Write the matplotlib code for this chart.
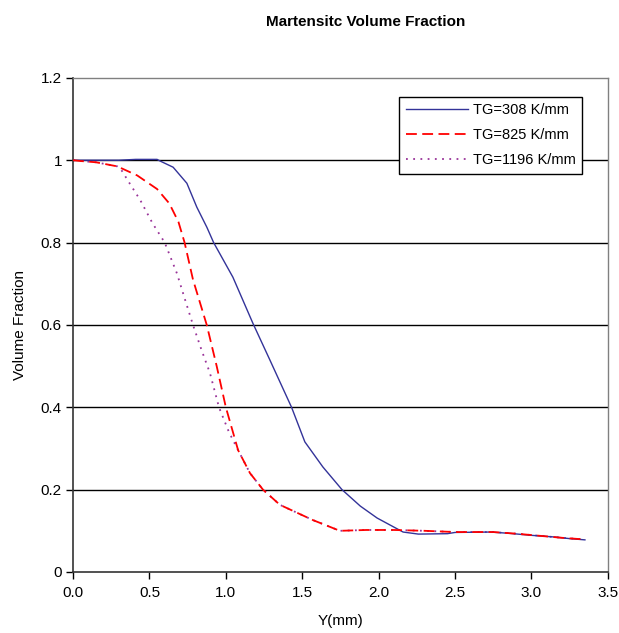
import matplotlib
matplotlib.use("Agg")
import matplotlib.pyplot as plt

plt.rcParams['font.family'] = ['Liberation Sans', 'DejaVu Sans']

# TG = 308 K/mm
y_308 = [0.0, 0.3, 0.41, 0.55, 0.57, 0.655, 0.745, 0.81, 0.876, 0.92, 1.046,
         1.177, 1.288, 1.43, 1.517, 1.635, 1.76, 1.88, 1.99, 2.16, 2.26,
         2.45, 2.5, 2.73, 2.85, 3.0, 3.15, 3.25, 3.35]
vf_308 = [1.0, 1.0, 1.002, 1.002, 0.998, 0.983, 0.944, 0.886, 0.837, 0.80, 0.716,
          0.604, 0.515, 0.40, 0.316, 0.255, 0.20, 0.16, 0.131, 0.097, 0.092,
          0.093, 0.096, 0.097, 0.094, 0.089, 0.085, 0.081, 0.078]

# TG = 825 K/mm
y_825 = [0.0, 0.05, 0.15, 0.22, 0.29, 0.42, 0.55, 0.63, 0.69, 0.73, 0.785,
         0.875, 0.94, 1.0, 1.08, 1.158, 1.243, 1.354, 1.57, 1.746, 1.92,
         2.1, 2.3, 2.5, 2.75, 2.9, 3.05, 3.2, 3.35]
vf_825 = [1.0, 0.998, 0.995, 0.99, 0.985, 0.963, 0.93, 0.895, 0.85, 0.80, 0.71,
          0.60, 0.50, 0.40, 0.296, 0.24, 0.20, 0.163, 0.126, 0.10, 0.102,
          0.102, 0.10, 0.097, 0.097, 0.093, 0.088, 0.083, 0.079]

# TG = 1196 K/mm
y_1196 = [0.0, 0.05, 0.15, 0.22, 0.29, 0.31, 0.37, 0.44, 0.52, 0.60, 0.68,
          0.73, 0.785, 0.84, 0.896, 0.955, 1.02, 1.08, 1.158, 1.243, 1.354,
          1.57, 1.746, 1.92, 2.1, 2.3, 2.5, 2.75, 2.9, 3.05, 3.2, 3.35]
vf_1196 = [1.0, 0.998, 0.995, 0.99, 0.985, 0.98, 0.944, 0.903, 0.847, 0.80, 0.725,
           0.665, 0.60, 0.54, 0.483, 0.40, 0.34, 0.296, 0.24, 0.20, 0.163,
           0.126, 0.10, 0.102, 0.102, 0.10, 0.097, 0.097, 0.093, 0.088,
           0.083, 0.079]

labels = ['TG=308 K/mm', 'TG=825 K/mm', 'TG=1196 K/mm']

fig = plt.figure(figsize=(6.19, 6.33), dpi=100)
ax = fig.add_axes([0.118, 0.0964, 0.864, 0.7806])

for yv in [0.2, 0.4, 0.6, 0.8, 1.0]:
    ax.axhline(yv, color='black', linewidth=1.0, zorder=1)

ax.plot(y_308, vf_308, color='#333399', linewidth=1.0, label=labels[0], zorder=3)
ax.plot(y_825, vf_825, color='#FF0000', linewidth=1.3, linestyle=(0, (6, 3)),
        label=labels[1], zorder=3)
ax.plot(y_1196, vf_1196, color='#993399', linewidth=1.3, linestyle=(0, (1, 3)),
        label=labels[2], zorder=2)

ax.set_xlim(0, 3.5)
ax.set_ylim(0, 1.2)
ax.set_xticks([0.0, 0.5, 1.0, 1.5, 2.0, 2.5, 3.0, 3.5])
ax.set_xticklabels(['0.0', '0.5', '1.0', '1.5', '2.0', '2.5', '3.0', '3.5'])
ax.set_yticks([0, 0.2, 0.4, 0.6, 0.8, 1.0, 1.2])
ax.set_yticklabels(['0', '0.2', '0.4', '0.6', '0.8', '1', '1.2'])
ax.tick_params(direction='out', length=5, width=1, labelsize=11)
ax.tick_params(axis='y', pad=3)
ax.tick_params(axis='x', pad=5)

for s in ['left', 'bottom']:
    ax.spines[s].set_color('#333333')
    ax.spines[s].set_linewidth(1.2)
for s in ['right', 'top']:
    ax.spines[s].set_color('#808080')
    ax.spines[s].set_linewidth(1.0)

ax.set_xlabel('Y(mm)', fontsize=11, labelpad=10)
ax.set_ylabel('Volume Fraction', fontsize=11, labelpad=10)

fig.text(0.59, 0.966, 'Martensitc Volume Fraction', ha='center', va='center',
         fontsize=11, fontweight='bold')

leg = ax.legend(loc='upper right', bbox_to_anchor=(0.952, 0.962), fontsize=10.5,
                frameon=True, fancybox=False, edgecolor='black', framealpha=1,
                handlelength=4.3, borderpad=0.45, labelspacing=0.75,
                handletextpad=0.3, borderaxespad=0)
leg.get_frame().set_linewidth(1.0)

fig.savefig('out.png', dpi=100)
